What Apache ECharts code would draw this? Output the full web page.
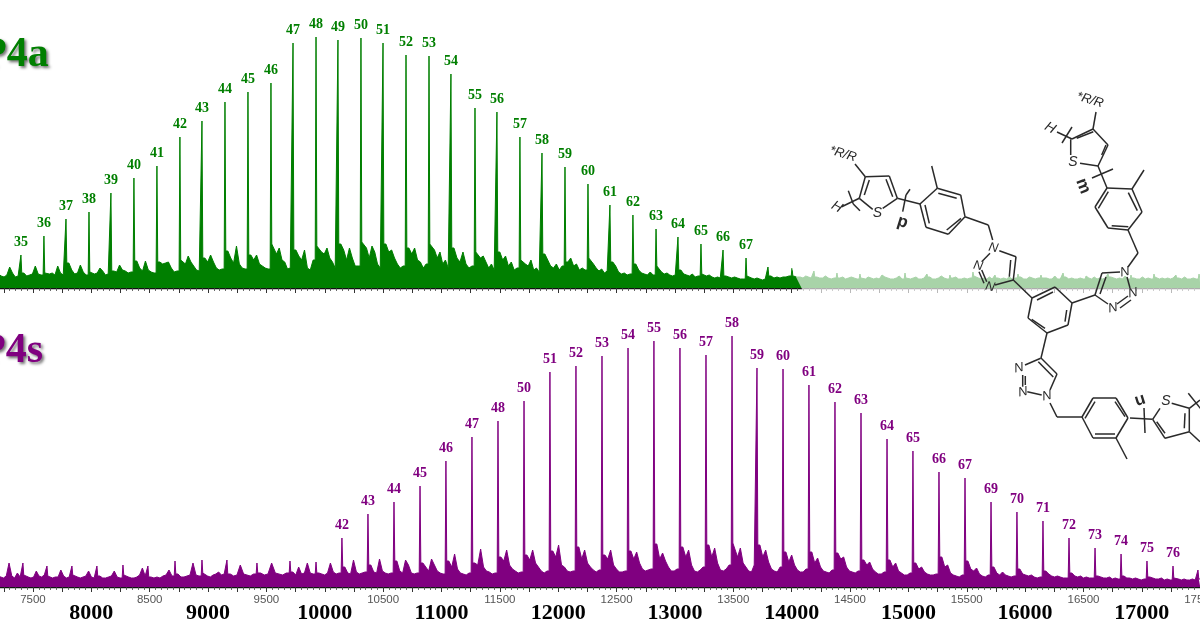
<!DOCTYPE html>
<html>
<head>
<meta charset="utf-8">
<style>html,body{margin:0;padding:0;background:#fff}#c{width:1200px;height:630px}</style>
<script src="https://cdn.jsdelivr.net/npm/echarts@6/dist/echarts.min.js"></script>
</head>
<body>
<div id="c"></div>
<script>
// ---------- data ----------
const topMass = [7204,7397,7594,7783,7980,8168,8365,8562,8759,8948,9145,9342,9539,9728,9925,10113,10310,10499,10696,10893,11081,11287,11475,11672,11861,12058,12255,12443,12640,12838,13026,13223,13412,13609,13797,14003,14191,14388,14585,14774,14971,15159,15356,15553,15742,15939,16136,16325,16522,16710,16907,17104,17292,17490,17500];
const topLabel = [null,35,36,37,38,39,40,41,42,43,44,45,46,47,48,49,50,51,52,53,54,55,56,57,58,59,60,61,62,63,64,65,66,67,null,null,null,null,null,null,null,null,null,null,null,null,null,null,null,null,null,null,null,null,null];
const topPeak = [14,33,52,69,76,95,110,122,151,167,186,196,205,245,251,248,250,245,233,232,214,180,176,151,135,121,104,83,73,59,51,44,38,30,21,20,17,15,14,13,15,14,13,16,13,14,13,15,12,14,13,14,13,14,10];
const topGaps = [
[12,11,13,21,15,11,12],[15,12,13,14,22,14,13],[15,14,15,13,22,15,13],[25,18,14,15,23,16,13],[16,14,15,20,17,13,14],
[17,16,23,18,17,15,16],[27,20,17,27,18,16,15],[26,24,25,26,20,16,17],[28,24,32,26,22,18,17],[30,26,33,26,20,18,19],
[37,30,25,42,24,20,19],[33,28,33,24,22,20,19],[44,34,40,28,26,19,20],[38,32,28,38,20,18,28],[42,36,34,40,30,26,20],
[44,38,28,40,30,22,22],[46,40,30,42,36,24,20],[44,36,38,30,24,20,22],[40,34,40,28,26,20,24],[44,38,30,36,24,28,20],
[40,30,26,36,24,20,22],[36,30,32,26,20,24,18],[36,28,32,22,26,18,20],[28,24,22,28,18,20,16],[34,28,22,20,24,18,22],
[26,30,22,24,18,20,18],[30,24,20,17,19,15,17],[26,22,16,14,15,13,14],[24,18,15,14,13,16,13],[22,16,14,15,13,12,13],
[18,14,13,12,14,11,12],[14,12,13,11,10,11,10],[12,11,10,11,10,9,9],[12,10,9,10,9,8,9],[12,10,11,10,11,11,12],
[12,11,11,10,12,11,10],[11,10,10,12,10,9,10],[10,11,9,10,11,10,9],[10,9,11,10,9,10,9],[11,10,9,9,10,12,9],
[10,9,10,11,9,9,10],[11,9,9,10,12,10,9],[10,11,9,9,10,9,10],[12,10,9,10,9,11,9],[10,9,10,9,11,9,10],
[11,9,9,11,10,9,10],[10,10,9,9,12,9,9],[11,9,10,9,9,10,9],[10,9,11,9,10,9,10],[11,10,9,10,9,12,9],
[10,9,9,11,9,10,9],[11,9,10,9,10,9,10],[10,9,11,9,9,10,9],[10]];

const botMass = [7200,7414,7620,7834,8048,8271,8485,8717,8948,9162,9419,9702,9925,10147,10370,10593,10816,11038,11261,11484,11707,11929,12152,12375,12598,12820,13043,13266,13489,13703,13926,14148,14371,14594,14817,15039,15262,15485,15708,15930,16153,16376,16599,16822,17044,17267,17481,17500];
const botLabel = [null,null,null,null,null,null,null,null,null,null,null,null,null,42,43,44,45,46,47,48,50,51,52,53,54,55,56,57,58,59,60,61,62,63,64,65,66,67,69,70,71,72,73,74,75,76,null,null];
const botPeak = [12,24,21,21,21,22,21,26,27,27,24,26,25,49,73,85,101,126,150,166,186,215,221,231,239,246,239,232,251,219,218,202,185,174,148,136,115,109,85,75,66,49,39,33,26,21,17,8];
const botGaps = [
[10,9,11,24,11,9,14,10],[12,10,9,10,16,11,10,12],[11,9,10,10,17,11,9,10],[12,10,9,10,11,16,10,9],[11,9,9,10,11,16,10,9],
[12,10,9,9,10,12,19,11],[10,9,10,9,11,12,17,11],[13,10,10,11,12,24,12,11],[14,11,10,12,13,15,12,13],[13,11,12,22,13,12,11,13],
[14,12,13,24,14,13,12,14],[15,12,20,13,14,24,14,13],[14,13,12,14,24,15,13,14],[20,14,13,27,15,13,14,15],[22,15,14,28,16,14,13,14],
[26,16,14,27,22,14,13,14],[24,20,16,28,22,16,14,13],[26,20,33,18,14,13,12,14],[24,22,38,20,16,15,13,14],[30,26,37,22,18,16,14,15],
[32,27,37,24,20,16,14,16],[36,30,42,22,20,16,15,16],[40,28,37,24,20,17,15,17],[32,28,37,22,18,15,15,16],[36,28,35,24,18,16,17,18],
[43,28,34,26,20,16,16,18],[40,30,37,22,16,15,17,20],[42,30,39,24,17,16,18,22],[44,30,39,24,20,16,15,22],[42,30,37,25,18,16,15,20],
[35,25,32,22,17,15,15,18],[35,24,29,20,16,15,14,17],[34,28,30,20,16,15,14,16],[27,22,25,18,15,13,13,15],[27,20,24,16,14,12,12,14],
[24,18,20,15,13,12,12,13],[30,20,22,14,12,11,10,12],[26,18,16,19,13,11,10,12],[20,14,12,15,12,11,10,11],[18,13,12,11,12,10,9,10],
[16,13,11,10,11,10,9,9],[14,11,10,11,9,10,9,9],[11,10,9,9,10,8,9,8],[11,9,9,8,9,8,7,8],[10,9,8,8,9,7,8,7],[9,8,7,8,7,7,8,7],[8],[8]];

const smallTicks = [7500,8500,9500,10500,11500,12500,13500,14500,15500,16500,17500];
const bigTicks = [8000,9000,10000,11000,12000,13000,14000,15000,16000,17000];

// ---------- build the traces ----------
function trace(mass, peak, gaps){
  const out=[];
  mass.forEach((m,i)=>{
    const g=gaps[i], prev=i>0?gaps[i-1][gaps[i-1].length-1]:g[0];
    if(i>0) out.push([m-7,prev]);
    out.push([m,peak[i]]);
    if(i<mass.length-1){
      out.push([m+7,g[0]]);
      const next=mass[i+1];
      g.forEach((v,j)=>out.push([m+(j+1)/(g.length+1)*(next-m),v]));
    }
  });
  return out;
}
function tags(mass, peak, label){
  return mass.map((m,i)=>label[i]==null?null:[m,peak[i],label[i]]).filter(Boolean);
}
const GREEN='#007f00', PURPLE='#800080';
const tagFont={fontFamily:'"Liberation Serif",serif',fontWeight:'bold',fontSize:14};
function spectrum(idx,color,data){
  return {type:'line',xAxisIndex:idx==0?0:1,yAxisIndex:idx,data,showSymbol:false,smooth:false,sampling:false,
    lineStyle:{color,width:1},areaStyle:{color,opacity:1},silent:true,z:2,animation:false};
}
function labels(idx,color,data){
  return {type:'scatter',xAxisIndex:idx==0?0:1,yAxisIndex:idx,data,symbolSize:1,itemStyle:{color:'rgba(0,0,0,0)'},silent:true,z:3,animation:false,
    label:{show:true,position:'top',distance:5,color,opacity:1,formatter:p=>String(p.data[2]),...tagFont}};
}
const axisCommon={type:'value',min:7000,max:17500,interval:250,splitLine:{show:false},
  axisLine:{show:true,onZero:false,lineStyle:{color:'#111',width:1.4}},
  axisTick:{show:true,length:5,lineStyle:{color:'#333',width:1}},
  minorTick:{show:true,splitNumber:5,length:3,lineStyle:{color:'#444',width:0.8}}};

// ---------- chemical structure, drawn as an annotation ----------
const bonds=[
[855,164,865.3,176.7],[865.3,176.7,889.3,176],[889.3,176,897.3,198.3],[865.3,176.7,859.3,198.3],[897.3,198.3,882.7,208.3],[859.3,198.3,872.7,209.3],
[869.3,180,864.3,195],[886,179.3,892.7,196.7],[841.7,206.7,859.3,198.3],[848.3,190.7,853.3,204],[853.3,204,860,210.7],[897.3,198.3,920,204],
[910,189.3,906,195],[906,195,902.7,211.7],
[920,204,937.3,188.3],[937.3,188.3,960.7,195],[960.7,195,965,216.7],[965,216.7,948.3,234.3],[948.3,234.3,926,227.3],[926,227.3,920,204],
[938.3,193.3,956.7,198.3],[961,218.3,946.7,230],[925,205,929.3,223.3],[937.3,188.3,931.7,166],[965,216.7,988.3,225],[988.3,225,992.7,240],
[999.3,250.7,1016,256.7],[1016,256.7,1013.3,280],[1010.7,260,1009.3,276.7],[1013.3,280,995,285],[986.7,281.7,981.7,270],[984,283.3,979,271.7],[981.7,261.7,990,253.3],
[1013.3,280,1032,298],
[1032,298,1055,287],[1055,287,1072,303],[1072,303,1068,325],[1068,325,1047,333],[1047,333,1028,318],[1028,318,1032,298],
[1037,300,1053,292],[1066.7,310,1065,321.7],[1045,328.3,1031.7,319.3],
[1072,303,1095,295],[1095,295,1102,273],[1100,294,1106,277],[1102,273,1120,272],[1127,277,1130,288],[1128,296,1117,304],[1131,300,1120,308],[1108,304,1095,295],
[1128,267,1138,253],[1138,253,1128,230],[1128,230,1142,212],[1142,212,1132,189],[1132,189,1107,188],[1107,188,1095,207],[1095,207,1108,228],[1108,228,1128,230],
[1098.3,208.3,1108.3,191.7],[1137.3,210.7,1128.3,192.7],[1111.7,225.7,1128.3,226.7],[1132,189,1144,170],[1107,188,1098,166],
[1098,166,1108,145],[1108,145,1093,129],[1093,129,1072,139],[1076.7,138.3,1093.3,131.7],[1101.7,155,1106,145],[1070.7,139.3,1070.7,155],[1080,163.3,1098,166],
[1093,129,1096,112],[1057,132,1072,139],[1072,127,1062,143],[1092,178,1113,169],
[1047,333,1041,358],[1041,358,1057,374],[1038.3,361.7,1053.3,377],[1057,374,1050,390],[1041.7,395,1027.3,391.7],[1022.7,386.7,1022.7,375],[1025.3,385,1025.3,376],[1025,365,1040.7,358.3],
[1050,403,1057,417],[1057,417,1082,417],[1082,417,1093,398],[1093,398,1116,398],[1116,398,1128,418],[1128,418,1116,438],[1116,438,1093,438],[1093,438,1082,417],
[1085,418.3,1095,401.7],[1125,416.7,1115,401.7],[1115,434,1095,434],[1116,438,1127,459],[1130,418,1152.7,419.3],[1144,408,1145,433],
[1152.7,419.3,1160,408.3],[1171.7,403.3,1189.3,408.3],[1189.3,408.3,1189.3,431.7],[1185,413.3,1184.3,428.3],[1189.3,431.7,1165,438.3],[1165,438.3,1152.7,419.3],[1165,433.3,1156.7,421.7],
[1189.3,408.3,1200,400],[1188.3,393.3,1201.7,410],[1189.3,431.7,1200,441.7]
];
const atoms=[
['*R/R',843,154,0.3,13],['H',836.7,207,0.5,14],['S',877.3,213,0,14],['p',902.5,222,0.3,17,'bold'],
['N',993.3,248,0.2,13],['N',978,266,0.2,13],['N',990,287,0.2,13],
['*R/R',1090,100,0.3,13],['H',1050,128,0.5,14],['S',1073,162,0,14],['m',1083,186,1.2,17,'bold'],
['N',1125,272,-0.2,13],['N',1133,293,-0.2,13],['N',1113,308,-0.2,13],
['N',1019,368,-0.2,13],['N',1023,392,-0.2,13],['N',1047,396,-0.2,13],['u',1140,400,-0.3,17,'bold'],['S',1166,401,0,14]
];
const ink='#2a2a2a';
const titleStyle=(text,fill)=>({text,fill,fontFamily:'"Liberation Serif",serif',fontWeight:'bold',fontSize:42,verticalAlign:'middle',
  textShadowColor:'rgba(0,0,0,.55)',textShadowBlur:3,textShadowOffsetX:2,textShadowOffsetY:2,
  shadowColor:'rgba(0,0,0,.55)',shadowBlur:3,shadowOffsetX:2,shadowOffsetY:2});
const graphic=[
  {type:'polygon',z:50,silent:true,shape:{points:[[790,265],[1200,265],[1200,297],[806,297]]},style:{fill:'rgba(255,255,255,0.66)'}},
  {type:'text',z:60,silent:true,x:-19,y:55,style:titleStyle('P4a',GREEN)},
  {type:'text',z:60,silent:true,x:-20,y:351,style:titleStyle('P4s',PURPLE)},
  ...bonds.map(b=>({type:'line',z:70,silent:true,shape:{x1:b[0],y1:b[1],x2:b[2],y2:b[3]},style:{stroke:ink,lineWidth:1.5}})),
  ...atoms.map(a=>({type:'text',z:71,silent:true,x:a[1],y:a[2],rotation:-a[3],style:{text:a[0],fontFamily:'"Liberation Sans",sans-serif',fontSize:a[4],fontWeight:a[5]||'normal',fontStyle:a[5]?'normal':'italic',fill:ink,align:'center',verticalAlign:'middle'}}))
];

const chart=echarts.init(document.getElementById('c'),null,{renderer:'canvas'});
chart.setOption({
  animation:false,backgroundColor:'#fff',
  grid:[{left:-25.4,width:1225.6,top:0,height:288,outerBoundsMode:'none',containLabel:false},{left:-25.4,width:1225.6,top:299,height:288,outerBoundsMode:'none',containLabel:false}],
  xAxis:[
    {...axisCommon,gridIndex:0,position:'bottom',axisLabel:{show:false}},
    {...axisCommon,gridIndex:1,position:'bottom',
      axisLabel:{show:true,margin:7,color:'#555',fontFamily:'"Liberation Sans",sans-serif',fontSize:11.5,hideOverlap:false,showMaxLabel:true,
        formatter:v=>smallTicks.includes(v)?String(v):''}},
    {type:'value',gridIndex:1,position:'bottom',min:7000,max:17500,interval:1000,splitLine:{show:false},axisLine:{show:false},axisTick:{show:false},
      axisLabel:{show:true,margin:15,color:'#000',fontFamily:'"Liberation Serif",serif',fontWeight:'bold',fontSize:22,hideOverlap:false,
        formatter:v=>bigTicks.includes(v)?String(v):''}}
  ],
  yAxis:[
    {type:'value',gridIndex:0,min:0,max:288,show:false},
    {type:'value',gridIndex:1,min:0,max:288,show:false}
  ],
  series:[
    spectrum(0,GREEN,trace(topMass,topPeak,topGaps)),
    spectrum(1,PURPLE,trace(botMass,botPeak,botGaps)),
    labels(0,GREEN,tags(topMass,topPeak,topLabel)),
    labels(1,PURPLE,tags(botMass,botPeak,botLabel))
  ],
  graphic
});
</script>
</body>
</html>
